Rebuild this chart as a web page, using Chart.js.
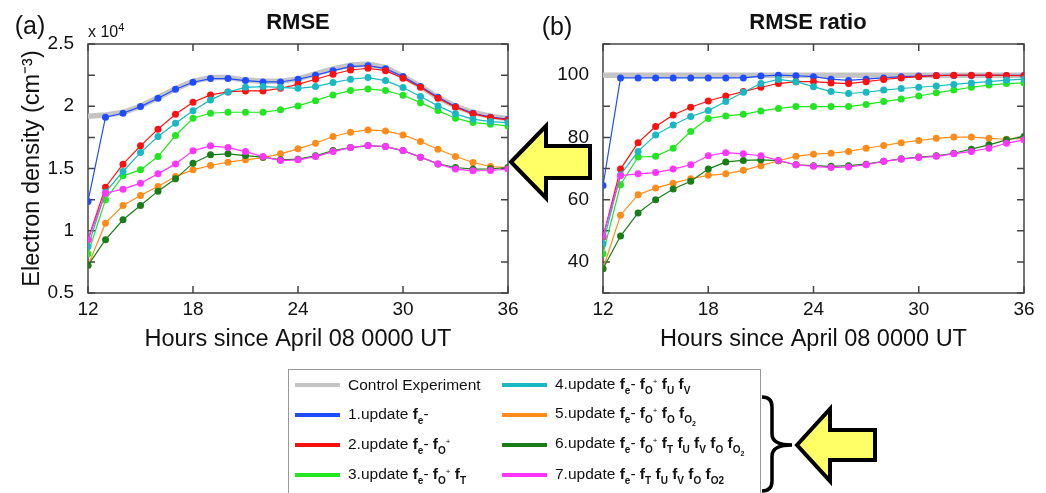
<!DOCTYPE html>
<html>
<head>
<meta charset="utf-8">
<script src="https://cdn.jsdelivr.net/npm/chart.js@4.4.1/dist/chart.umd.min.js"></script>
<style>
  body { margin: 0; background: #fff; font-family: "Liberation Sans", Arial, sans-serif; color: #111; }
  #page { position: relative; width: 1046px; height: 493px; overflow: hidden; }
  canvas { position: absolute; top: 0; }
  #overlay { left: 0; z-index: 1; }
  #chartA { left: 0; z-index: 2; }
  #chartB { left: 540px; z-index: 2; }
  .lbl { position: absolute; line-height: 1; white-space: nowrap; transform: translate(-50%, -50%); z-index: 3; }
  .panel { font-size: 25px; }
  .ttl { font-size: 22px; font-weight: bold; }
  .mult { position: absolute; left: 88px; top: 22px; font-size: 16px; line-height: 1; z-index: 3; }
  .mult sup { font-size: 11px; vertical-align: 6px; }
  #legend { position: absolute; left: 288px; top: 369px; width: 473px; height: 140px; border: 1.5px solid #999; box-sizing: border-box; z-index: 3; }
  .row { position: absolute; height: 30px; display: flex; align-items: center; font-size: 15.5px; white-space: nowrap; }
  .sw { width: 45px; height: 4px; margin-right: 8px; }
  .row b { font-weight: bold; }
  .row sub { font-size: 10px; vertical-align: -5px; font-weight: bold; }
  .row sup { font-size: 8px; vertical-align: 5px; }
  .row sub sub { font-size: 7px; vertical-align: -3px; }
</style>
</head>
<body>
<div id="page">
  <canvas id="overlay" width="1046" height="493"></canvas>
  <canvas id="chartA" width="540" height="360"></canvas>
  <canvas id="chartB" width="506" height="360"></canvas>

  <div class="lbl panel" style="left:30px; top:25px;">(a)</div>
  <div class="lbl ttl" style="left:298px; top:22px;">RMSE</div>
  <div class="mult">x 10<sup>4</sup></div>
  <div class="lbl panel" style="left:557px; top:26px;">(b)</div>
  <div class="lbl ttl" style="left:808px; top:22px;">RMSE ratio</div>

  <div id="legend"></div>
</div>

<script>
// hours after April 08 0000 UT
const hours = [12, 13, 14, 15, 16, 17, 18, 19, 20, 21, 22, 23, 24, 25, 26, 27, 28, 29, 30, 31, 32, 33, 34, 35, 36];

// (a) RMSE of electron density, x 10^4 cm^-3
const ctrlRmse = [1.92, 1.93, 1.95, 2.0, 2.07, 2.14, 2.2, 2.23, 2.23, 2.21, 2.2, 2.2, 2.22, 2.26, 2.3, 2.33, 2.34, 2.31, 2.24, 2.16, 2.07, 2.0, 1.95, 1.92, 1.9];
const upd1Rmse = [1.235, 1.912, 1.944, 1.997, 2.064, 2.136, 2.193, 2.222, 2.222, 2.206, 2.195, 2.195, 2.217, 2.249, 2.286, 2.318, 2.326, 2.302, 2.238, 2.158, 2.072, 1.997, 1.944, 1.912, 1.896];
const upd2Rmse = [0.93, 1.35, 1.535, 1.682, 1.816, 1.936, 2.032, 2.091, 2.115, 2.123, 2.123, 2.144, 2.176, 2.217, 2.257, 2.291, 2.305, 2.286, 2.225, 2.152, 2.064, 1.992, 1.939, 1.909, 1.89];
const upd3Rmse = [0.816, 1.249, 1.441, 1.489, 1.596, 1.765, 1.904, 1.944, 1.952, 1.952, 1.952, 1.971, 2.003, 2.045, 2.091, 2.126, 2.139, 2.126, 2.088, 2.029, 1.965, 1.904, 1.869, 1.856, 1.842];
const upd4Rmse = [0.874, 1.31, 1.476, 1.628, 1.757, 1.864, 1.963, 2.051, 2.115, 2.152, 2.158, 2.152, 2.144, 2.158, 2.19, 2.217, 2.23, 2.206, 2.15, 2.078, 2.003, 1.939, 1.896, 1.877, 1.869];
const upd5Rmse = [0.72, 1.061, 1.203, 1.283, 1.356, 1.436, 1.489, 1.524, 1.551, 1.57, 1.588, 1.618, 1.658, 1.703, 1.757, 1.791, 1.81, 1.802, 1.77, 1.717, 1.655, 1.596, 1.548, 1.516, 1.508];
const upd6Rmse = [0.722, 0.928, 1.088, 1.203, 1.318, 1.417, 1.543, 1.61, 1.618, 1.604, 1.591, 1.57, 1.575, 1.602, 1.644, 1.668, 1.684, 1.676, 1.644, 1.591, 1.537, 1.508, 1.495, 1.497, 1.508];
const upd7Rmse = [0.928, 1.302, 1.334, 1.382, 1.457, 1.537, 1.642, 1.682, 1.668, 1.636, 1.596, 1.564, 1.57, 1.596, 1.636, 1.668, 1.684, 1.676, 1.644, 1.591, 1.537, 1.495, 1.481, 1.484, 1.495];

// (b) RMSE ratio, %
const ctrlRatio = [100, 100, 100, 100, 100, 100, 100, 100, 100, 100, 100, 100, 100, 100, 100, 100, 100, 100, 100, 100, 100, 100, 100, 100, 100];
const upd1Ratio = [64.5, 99.1, 99.1, 99.1, 99.1, 99.1, 99.1, 99.1, 99.1, 99.7, 100, 99.8, 99.5, 98.7, 98.3, 98.7, 99.1, 99.5, 99.7, 99.9, 99.9, 99.9, 99.9, 99.9, 99.9];
const upd2Ratio = [48.0, 69.8, 78.3, 83.5, 87.2, 89.7, 91.7, 93.3, 94.7, 96.1, 97.3, 97.9, 97.9, 97.5, 97.3, 97.9, 98.6, 99.1, 99.5, 99.8, 100, 100, 100, 99.9, 99.8];
const upd3Ratio = [42.6, 64.8, 73.7, 73.9, 76.5, 81.9, 86.1, 86.9, 87.4, 88.5, 89.3, 89.9, 89.9, 89.9, 89.9, 90.6, 91.5, 92.3, 93.3, 94.3, 95.2, 96.1, 96.8, 97.3, 97.5];
const upd4Ratio = [45.8, 68.0, 75.5, 80.8, 84.0, 86.7, 88.6, 91.5, 94.5, 97.3, 98.6, 97.9, 96.3, 94.7, 94.1, 94.5, 95.2, 95.7, 96.1, 96.5, 97.0, 97.5, 97.9, 98.4, 98.7];
const upd5Ratio = [37.8, 55.0, 61.6, 63.7, 65.3, 66.7, 67.8, 68.3, 69.4, 70.9, 72.5, 73.9, 74.6, 74.9, 75.5, 76.5, 77.4, 78.3, 79.0, 79.7, 80.1, 80.1, 79.7, 79.4, 79.7];
const upd6Ratio = [37.8, 48.3, 55.7, 60.0, 63.4, 65.9, 69.8, 72.1, 72.6, 72.8, 72.5, 71.2, 70.9, 70.7, 70.9, 71.4, 72.3, 73.1, 73.7, 74.1, 74.9, 76.2, 77.6, 79.2, 80.3];
const upd7Ratio = [48.3, 67.7, 68.3, 68.7, 69.8, 71.2, 74.1, 75.1, 74.7, 74.1, 72.6, 71.2, 70.7, 70.3, 70.5, 71.2, 72.3, 73.0, 73.5, 73.9, 74.7, 75.5, 76.5, 78.1, 79.2];

const xTicks = [12, 18, 24, 30, 36];
const rmseTickLabels = [0.5, 1, 1.5, 2, 2.5];
const ratioTickLabels = [40, 60, 80, 100];

const seriesNames = [
  "Control Experiment",
  "1.update <b>f</b><sub>e</sub>-",
  "2.update <b>f</b><sub>e</sub>- <b>f</b><sub>O</sub><sup>+</sup>",
  "3.update <b>f</b><sub>e</sub>- <b>f</b><sub>O</sub><sup>+</sup> <b>f</b><sub>T</sub>",
  "4.update <b>f</b><sub>e</sub>- <b>f</b><sub>O</sub><sup>+</sup> <b>f</b><sub>U</sub> <b>f</b><sub>V</sub>",
  "5.update <b>f</b><sub>e</sub>- <b>f</b><sub>O</sub><sup>+</sup> <b>f</b><sub>O</sub> <b>f</b><sub>O<sub>2</sub></sub>",
  "6.update <b>f</b><sub>e</sub>- <b>f</b><sub>O</sub><sup>+</sup> <b>f</b><sub>T</sub> <b>f</b><sub>U</sub> <b>f</b><sub>V</sub> <b>f</b><sub>O</sub> <b>f</b><sub>O<sub>2</sub></sub>",
  "7.update <b>f</b><sub>e</sub>- <b>f</b><sub>T</sub> <b>f</b><sub>U</sub> <b>f</b><sub>V</sub> <b>f</b><sub>O</sub> <b>f</b><sub>O2</sub>",
];
const seriesColors = ["#c4c4c4", "#1f4cff", "#ff1010", "#22e622", "#18b9c2", "#ff8c1a", "#1a7d1a", "#ff35ff"];

const rmseSeries = [ctrlRmse, upd1Rmse, upd2Rmse, upd3Rmse, upd4Rmse, upd5Rmse, upd6Rmse, upd7Rmse];
const ratioSeries = [ctrlRatio, upd1Ratio, upd2Ratio, upd3Ratio, upd4Ratio, upd5Ratio, upd6Ratio, upd7Ratio];

const FONT = "'Liberation Sans', Arial, sans-serif";

// box around the plot + inward tick marks on all four sides
const frameTicks = {
  id: "frameTicks",
  beforeDatasetsDraw(chart) {
    const { ctx, chartArea: a, scales } = chart;
    const x = scales.x, y = scales.y;
    ctx.save();
    ctx.strokeStyle = "#444";
    ctx.lineWidth = 1.5;
    ctx.beginPath();
    x.ticks.forEach((t) => {
      const px = x.getPixelForValue(t.value);
      ctx.moveTo(px, a.bottom); ctx.lineTo(px, a.bottom - 7);
      ctx.moveTo(px, a.top); ctx.lineTo(px, a.top + 7);
    });
    y.ticks.forEach((t) => {
      const py = y.getPixelForValue(t.value);
      ctx.moveTo(a.left, py); ctx.lineTo(a.left + 7, py);
      ctx.moveTo(a.right, py); ctx.lineTo(a.right - 7, py);
    });
    ctx.stroke();
    ctx.strokeRect(a.left, a.top, a.right - a.left, a.bottom - a.top);
    ctx.restore();
  },
};

function buildSets(series) {
  return series.map((vals, i) => {
    const pts = hours.map((h, k) => ({ x: h, y: vals[k] }));
    if (i === 0) {
      return { data: pts, borderColor: seriesColors[0], borderWidth: 5.5, pointRadius: 0, order: 10 };
    }
    return {
      data: pts,
      borderColor: seriesColors[i],
      borderWidth: 1.2,
      pointRadius: 3.5,
      pointBorderWidth: 0,
      pointBackgroundColor: seriesColors[i],
      order: 8 - i,
    };
  });
}

function makeChart(id, series, yOpt) {
  return new Chart(document.getElementById(id), {
    type: "line",
    data: { datasets: buildSets(series) },
    plugins: [frameTicks],
    options: {
      responsive: false,
      animation: false,
      layout: { padding: { top: 44, right: yOpt.padRight, left: 0, bottom: 0 } },
      plugins: { legend: { display: false }, tooltip: { enabled: false } },
      scales: {
        x: {
          type: "linear",
          min: 12,
          max: 36,
          afterBuildTicks: (s) => { s.ticks = xTicks.map((v) => ({ value: v })); },
          afterFit: (s) => { s.height = 67; },
          grid: { display: false },
          border: { display: false },
          ticks: { color: "#111", padding: -3, font: { family: FONT, size: 19 } },
          title: {
            display: true,
            text: "Hours since April 08 0000 UT",
            color: "#111",
            font: { family: FONT, size: 23.5 },
            padding: { top: 0, bottom: 6 },
          },
        },
        y: {
          min: yOpt.min,
          max: yOpt.max,
          ticks: {
            stepSize: yOpt.step,
            color: "#111",
            padding: 6,
            font: { family: FONT, size: 19 },
            callback: (v) => (yOpt.labels.some((l) => Math.abs(l - v) < 1e-6) ? String(v) : ""),
          },
          afterFit: (s) => { s.width = yOpt.axisW; },
          grid: { display: false },
          border: { display: false },
          title: {
            display: !!yOpt.title,
            text: yOpt.title || "",
            color: "#111",
            font: { family: FONT, size: 23.5 },
            padding: { top: 18, bottom: 0 },
          },
        },
      },
    },
  });
}

makeChart("chartA", rmseSeries, {
  min: 0.5, max: 2.5, step: 0.25, labels: rmseTickLabels,
  axisW: 88, padRight: 32, title: "Electron density (cm\u207B\u00B3)",
});
makeChart("chartB", ratioSeries, {
  min: 30, max: 110, step: 10, labels: ratioTickLabels,
  axisW: 63, padRight: 22,
});

// legend, two columns
const legend = document.getElementById("legend");
const rowY = [15, 45, 75, 105];
seriesNames.forEach((name, i) => {
  const row = document.createElement("div");
  row.className = "row";
  row.style.left = (i < 4 ? 6 : 213) + "px";
  row.style.top = (rowY[i % 4] - 15) + "px";
  row.innerHTML = '<div class="sw" style="background:' + seriesColors[i] + '"></div><span>' + name + "</span>";
  legend.appendChild(row);
});

// yellow pointer arrows and the brace next to the legend
const octx = document.getElementById("overlay").getContext("2d");

function drawArrow(tipX, tipY, headX, headHalf, shaftHalf, tailX) {
  octx.beginPath();
  octx.moveTo(tipX, tipY);
  octx.lineTo(headX, tipY - headHalf);
  octx.lineTo(headX, tipY - shaftHalf);
  octx.lineTo(tailX, tipY - shaftHalf);
  octx.lineTo(tailX, tipY + shaftHalf);
  octx.lineTo(headX, tipY + shaftHalf);
  octx.lineTo(headX, tipY + headHalf);
  octx.closePath();
  octx.fillStyle = "#ffff66";
  octx.fill();
  octx.lineWidth = 4;
  octx.lineJoin = "miter";
  octx.strokeStyle = "#000";
  octx.stroke();
}
drawArrow(511, 162, 546, 36, 16, 590);
drawArrow(797, 445, 830, 36, 15, 875);

octx.beginPath();
octx.moveTo(762, 397);
octx.quadraticCurveTo(772, 397, 772, 407);
octx.lineTo(772, 434);
octx.quadraticCurveTo(772, 445, 792, 445);
octx.quadraticCurveTo(772, 445, 772, 456);
octx.lineTo(772, 481);
octx.quadraticCurveTo(772, 491, 762, 491);
octx.lineWidth = 3.5;
octx.strokeStyle = "#000";
octx.stroke();
</script>
</body>
</html>
